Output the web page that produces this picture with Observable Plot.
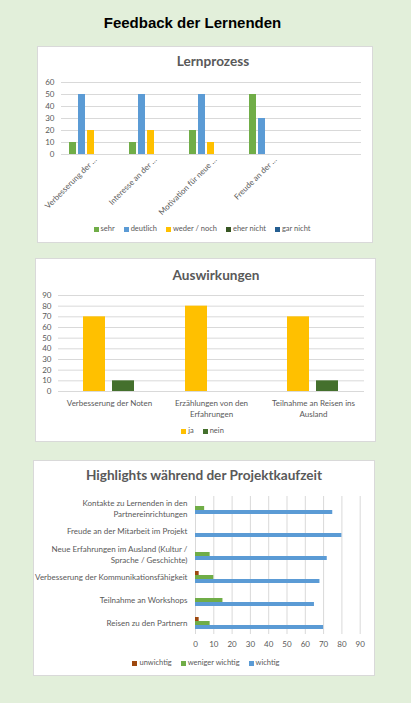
<!DOCTYPE html>
<html><head><meta charset="utf-8">
<script src="https://cdn.jsdelivr.net/npm/d3@7"></script>
<script src="https://cdn.jsdelivr.net/npm/@observablehq/plot@0.6"></script>
<style>
html,body{margin:0;padding:0}
body{width:411px;height:703px;background:#e2efda;position:relative;overflow:hidden;font-family:Lato,sans-serif}
.abs{position:absolute}
.panel{position:absolute;background:#fff;border:1px solid #d9d9d9;box-sizing:border-box}
.main-title{position:absolute;left:0;width:385px;top:14px;text-align:center;font:bold 15px "Liberation Sans",Arial,sans-serif;color:#000;line-height:18px}
.ctitle{position:absolute;width:300px;text-align:center;font:bold 13.6px Lato,sans-serif;color:#595959;line-height:16px}
.lg-swatches{font-family:Lato,sans-serif;font-size:7.5px;color:#595959;justify-content:center;min-height:0;margin:0;line-height:10px}
.lg-swatch{margin-right:9px}
.lg-swatch > svg{margin-right:2px}
</style>
</head><body>
<div class="main-title">Feedback der Lernenden</div>
<div class="panel" style="left:37px;top:46px;width:336px;height:197px"></div>
<div class="panel" style="left:35px;top:258px;width:341px;height:184px"></div>
<div class="panel" style="left:33px;top:460px;width:342px;height:216px"></div>
<div class="ctitle" style="left:63px;top:53px">Lernprozess</div>
<div class="ctitle" style="left:66px;top:267px">Auswirkungen</div>
<div class="ctitle" style="left:54px;top:467px">Highlights während der Projektkaufzeit</div>
<script>
// ---- Chart 1: Lernprozess ----
const lpCategories = ["Verbesserung der …", "Interesse an der …", "Motivation für neue …", "Freude an der …", " "];
const lpSeries = ["sehr", "deutlich", "weder / noch", "eher nicht", "gar nicht"];
const lpColors = ["#70ad47", "#5b9bd5", "#ffc000", "#375623", "#255e91"];
const lpSehr = [10, 10, 20, 50];
const lpDeutlich = [50, 50, 50, 30];
const lpWederNoch = [20, 20, 10, 0];
const lpEherNicht = [0, 0, 0, 0];
const lpGarNicht = [0, 0, 0, 0];
const lpTicks = [0, 10, 20, 30, 40, 50, 60];

// ---- Chart 2: Auswirkungen ----
const awCategories = ["Verbesserung der Noten", "Erzählungen von den\nErfahrungen", "Teilnahme an Reisen ins\nAusland"];
const awSeries = ["ja", "nein"];
const awColors = ["#ffc000", "#44702d"];
const awJa = [70, 80, 70];
const awNein = [10, 0, 10];
const awTicks = [0, 10, 20, 30, 40, 50, 60, 70, 80, 90];

// ---- Chart 3: Highlights ----
const hlCategories = [
  "Kontakte zu Lernenden in den\nPartnereinrichtungen",
  "Freude an der Mitarbeit im Projekt",
  "Neue Erfahrungen im Ausland (Kultur /\nSprache / Geschichte)",
  "Verbesserung der Kommunikationsfähigkeit",
  "Teilnahme an Workshops",
  "Reisen zu den Partnern"
];
const hlSeries = ["unwichtig", "weniger wichtig", "wichtig"];
const hlColors = ["#9e480e", "#70ad47", "#5b9bd5"];
const hlUnwichtig = [0, 0, 0, 2, 0, 2];
const hlWenigerWichtig = [5, 0, 8, 10, 15, 8];
const hlWichtig = [75, 80, 72, 68, 65, 70];
const hlTicks = [0, 10, 20, 30, 40, 50, 60, 70, 80, 90];

const textColor = "#595959";
const gridColor = "#d9d9d9";
const baseStyle = {fontFamily: "Lato, sans-serif", fontSize: "8px", color: textColor, background: "transparent", overflow: "visible"};

function place(el, left, top) {
  const d = document.createElement("div");
  d.className = "abs";
  d.style.left = left + "px";
  d.style.top = top + "px";
  d.appendChild(el);
  document.body.appendChild(d);
}
function legend(domain, range, cx, cy) {
  const el = Plot.legend({color: {type: "ordinal", domain, range}, legend: "swatches", swatchSize: 5, className: "lg"});
  const d = document.createElement("div");
  d.className = "abs";
  d.style.left = (cx - 150) + "px";
  d.style.width = "300px";
  d.style.top = (cy - 5) + "px";
  d.appendChild(el);
  document.body.appendChild(d);
}

// Chart 1
const lpValues = [lpSehr, lpDeutlich, lpWederNoch, lpEherNicht, lpGarNicht];
const lpData = lpSehr.flatMap((_, i) => lpSeries.map((s, j) => ({cat: lpCategories[i], series: s, value: lpValues[j][i]})));
const c1 = Plot.plot({
  width: 336, height: 144,
  marginLeft: 22, marginRight: 10, marginTop: 12, marginBottom: 60,
  style: baseStyle,
  fx: {domain: lpCategories, padding: 0, label: null},
  x: {domain: lpSeries, paddingInner: 0.2, paddingOuter: 0.8, axis: null},
  y: {domain: [0, 60], label: null},
  color: {domain: lpSeries, range: lpColors},
  marks: [
    Plot.gridY(lpTicks, {stroke: gridColor, strokeOpacity: 1, facetAnchor: "top"}),
    Plot.barY(lpData, {fx: "cat", x: "series", y: "value", fill: "series"}),
    Plot.axisY(lpTicks, {tickSize: 0, tickPadding: 7, label: null, fill: textColor}),
    Plot.axisFx({anchor: "bottom", tickRotate: -45, tickSize: 0, tickPadding: 4, dx: 4, label: null, fill: textColor})
  ]
});
place(c1, 37, 70);
legend(lpSeries, lpColors, 206.5, 229);

// Chart 2
const awValues = [awJa, awNein];
const awData = awJa.flatMap((_, i) => awSeries.map((s, j) => ({cat: awCategories[i], series: s, value: awValues[j][i]})));
const c2 = Plot.plot({
  width: 341, height: 141,
  marginLeft: 22, marginRight: 11, marginTop: 10, marginBottom: 35,
  style: baseStyle,
  fx: {domain: awCategories, padding: 0, label: null},
  x: {domain: awSeries, paddingInner: 0.233, paddingOuter: 0.83, axis: null},
  y: {domain: [0, 90], label: null},
  color: {domain: awSeries, range: awColors},
  marks: [
    Plot.gridY(awTicks, {stroke: gridColor, strokeOpacity: 1}),
    Plot.barY(awData, {fx: "cat", x: "series", y: "value", fill: "series"}),
    Plot.axisY(awTicks, {tickSize: 0, tickPadding: 7, label: null, fill: textColor}),
    Plot.axisFx({anchor: "bottom", tickSize: 0, tickPadding: 7, label: null, lineHeight: 1.33, fill: textColor})
  ]
});
place(c2, 35, 285);
legend(awSeries, awColors, 207, 431);

// Chart 3
const hlValues = [hlUnwichtig, hlWenigerWichtig, hlWichtig];
const hlData = hlWichtig.flatMap((_, i) => hlSeries.map((s, j) => ({cat: hlCategories[i], series: s, value: hlValues[j][i]})));
const c3 = Plot.plot({
  width: 342, height: 164,
  marginLeft: 162, marginRight: 15.3, marginTop: 5, marginBottom: 20,
  style: baseStyle,
  fy: {domain: hlCategories, padding: 0, label: null},
  y: {domain: hlSeries, paddingInner: 0, paddingOuter: 1.02, axis: null},
  x: {domain: [0, 90], label: null},
  color: {domain: hlSeries, range: hlColors},
  marks: [
    Plot.gridX(hlTicks, {stroke: gridColor, strokeOpacity: 1}),
    Plot.barX(hlData, {fy: "cat", y: "series", x: "value", fill: "series"}),
    Plot.axisX(hlTicks, {tickSize: 0, tickPadding: 7, label: null, fill: textColor}),
    Plot.axisFy({anchor: "left", tickSize: 0, tickPadding: 8, label: null, lineHeight: 1.33, fill: textColor})
  ]
});
place(c3, 33, 490);
legend(hlSeries, hlColors, 210.5, 663);
</script>
</body></html>
